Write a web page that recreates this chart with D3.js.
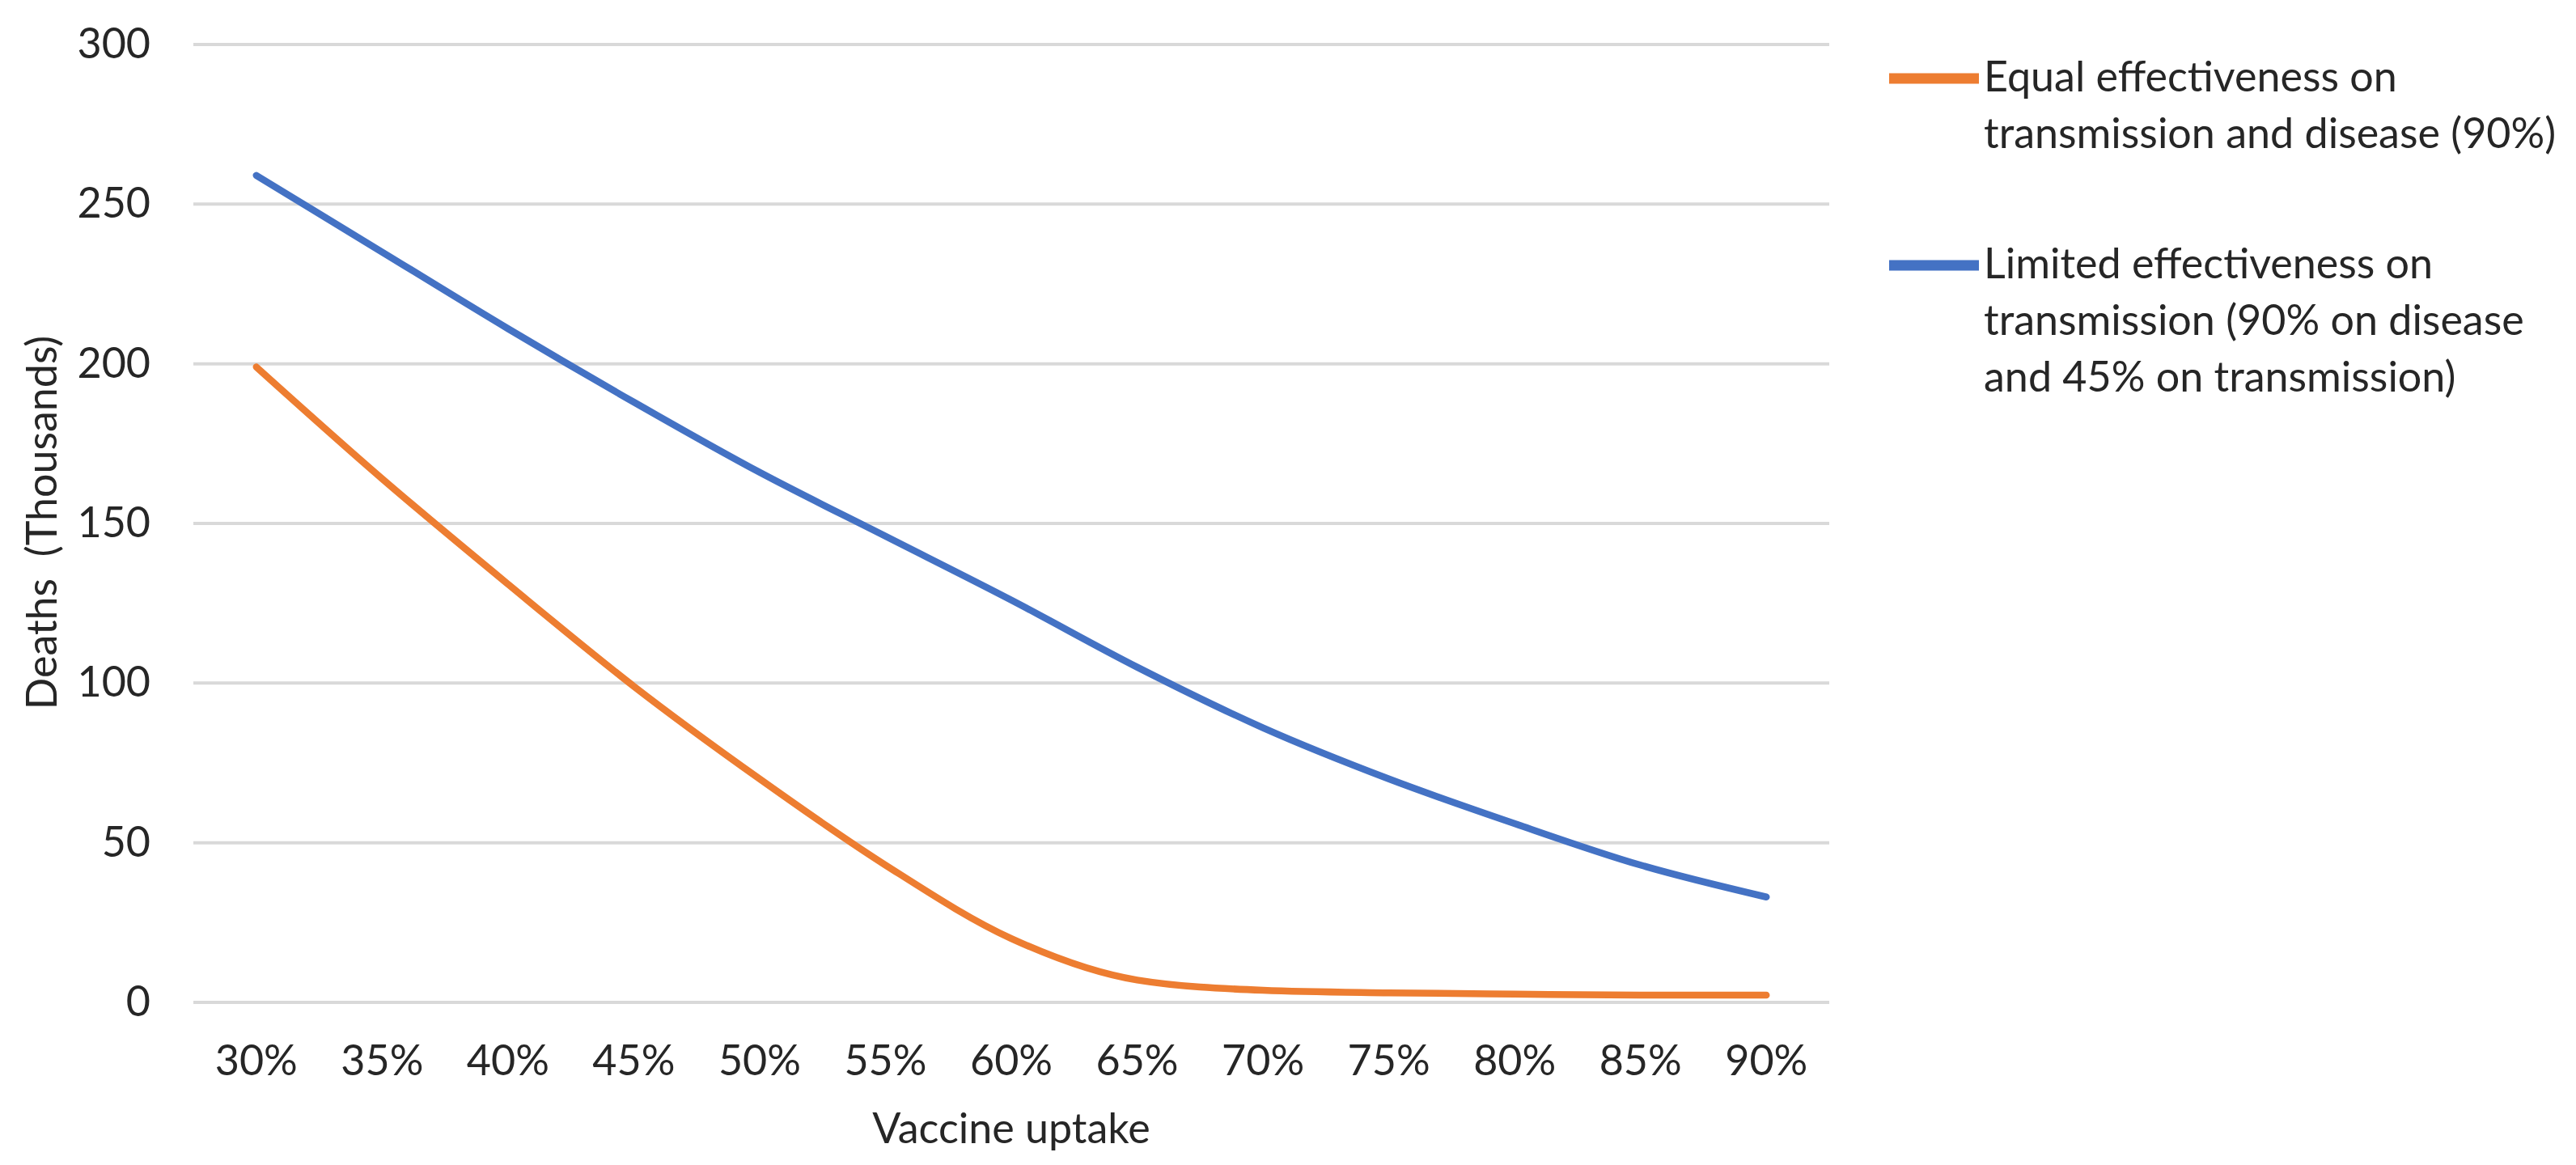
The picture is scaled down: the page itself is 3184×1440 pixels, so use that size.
<!DOCTYPE html>
<html>
<head>
<meta charset="utf-8">
<script src="https://cdn.jsdelivr.net/npm/d3@7"></script>
<style>
  html, body { margin: 0; padding: 0; background: #ffffff; }
  svg { display: block; }
  text { font-family: Lato, "Open Sans", "Liberation Sans", sans-serif; fill: #262626; }
</style>
</head>
<body>
<svg id="chart" width="3184" height="1440"></svg>
<script>
// ---- data ----
const categories = ["30%", "35%", "40%", "45%", "50%", "55%", "60%", "65%", "70%", "75%", "80%", "85%", "90%"];
const equalEffectiveness = [199, 164, 131, 99, 70, 43, 20, 7, 3.8, 3, 2.6, 2.3, 2.3];
const limitedEffectiveness = [259, 235, 211, 188, 166, 146, 126, 105, 86, 70, 56, 43, 33];
const yTicks = [0, 50, 100, 150, 200, 250, 300];
const seriesNames = [
  ["Equal effectiveness on", "transmission and disease (90%)"],
  ["Limited effectiveness on", "transmission (90% on disease", "and 45% on transmission)"]
];
const seriesColors = ["#ED7D31", "#4472C4"];
const xTitle = "Vaccine uptake";
const yTitle = "Deaths\u00A0\u00A0(Thousands)";

// ---- drawing ----
const svg = d3.select("#chart");

// calibrate font size so text widths approximate the reference's typeface
const probe = svg.append("text").attr("font-size", 100).text("Equal effectiveness on");
const probeW = probe.node().getComputedTextLength();
probe.remove();
const fs = Math.min(58, 100 * 511 / probeW);

const x = d3.scaleBand().domain(categories).range([239, 2261]);
const y = d3.scaleLinear().domain([0, 300]).range([1239, 55]);

// gridlines
svg.append("g").selectAll("line").data(yTicks).join("line")
  .attr("x1", x.range()[0]).attr("x2", x.range()[1])
  .attr("y1", d => y(d)).attr("y2", d => y(d))
  .attr("stroke", "#d9d9d9").attr("stroke-width", 4);

// y axis labels
const yAxis = d3.axisLeft(y).tickValues(yTicks).tickSize(0).tickPadding(0);
const gy = svg.append("g").attr("transform", "translate(186,0)").call(yAxis);
gy.select(".domain").remove();
gy.selectAll("text").attr("font-size", fs).attr("font-family", null).style("fill", "#262626");

// x axis labels
const xAxis = d3.axisBottom(x).tickSize(0).tickPadding(0);
const gx = svg.append("g").attr("transform", "translate(0,1290)").call(xAxis);
gx.select(".domain").remove();
gx.selectAll("text").attr("font-size", fs).attr("font-family", null).attr("dy", "0.75em").style("fill", "#262626");

// axis titles
svg.append("text")
  .attr("x", (x.range()[0] + x.range()[1]) / 2).attr("y", 1413)
  .attr("text-anchor", "middle").attr("font-size", fs).text(xTitle);
svg.append("text")
  .attr("transform", "translate(70,646) rotate(-90)")
  .attr("text-anchor", "middle").attr("font-size", fs).text(yTitle);

// lines
const line = d3.line()
  .x((d, i) => x(categories[i]) + x.bandwidth() / 2)
  .y(d => y(d))
  .curve(d3.curveMonotoneX);

[equalEffectiveness, limitedEffectiveness].forEach((vals, k) => {
  svg.append("path")
    .datum(vals)
    .attr("d", line)
    .attr("fill", "none")
    .attr("stroke", seriesColors[k])
    .attr("stroke-width", 8.5)
    .attr("stroke-linecap", "round")
    .attr("stroke-linejoin", "round");
});

// legend
const legendTop = [97, 328];
const legend = svg.append("g");
seriesNames.forEach((lines, k) => {
  const g = legend.append("g");
  g.append("line")
    .attr("x1", 2335).attr("x2", 2446)
    .attr("y1", legendTop[k]).attr("y2", legendTop[k])
    .attr("stroke", seriesColors[k]).attr("stroke-width", 13);
  const t = g.append("text")
    .attr("x", 2452).attr("y", legendTop[k] + 16)
    .attr("font-size", fs);
  lines.forEach((s, j) => {
    t.append("tspan").attr("x", 2452).attr("dy", j === 0 ? 0 : 70).text(s);
  });
});
</script>
</body>
</html>
